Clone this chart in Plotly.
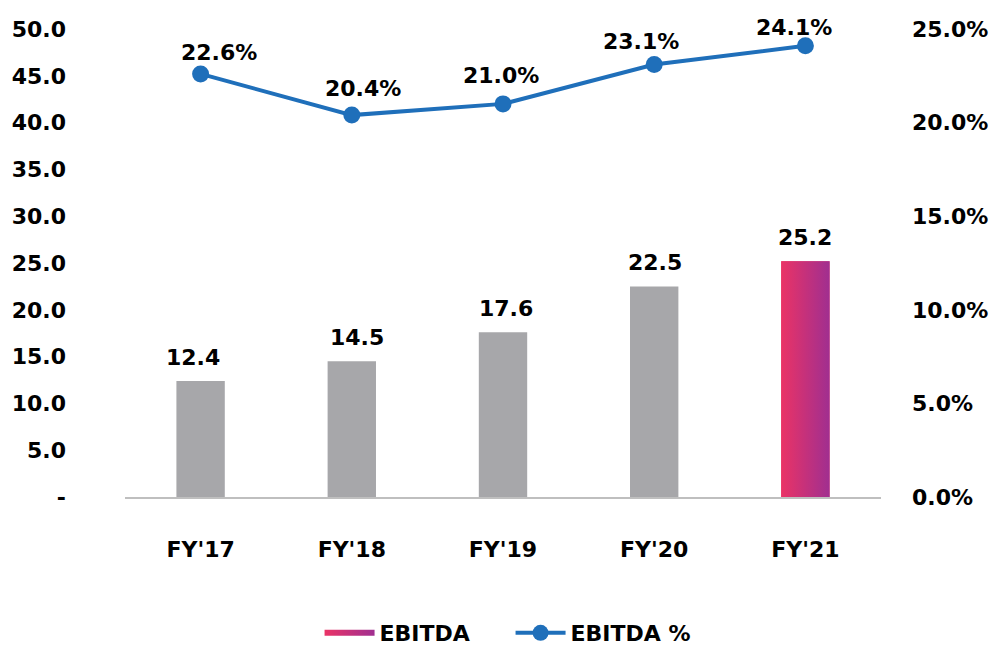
import plotly.graph_objects as go

categories = ["FY'17", "FY'18", "FY'19", "FY'20", "FY'21"]
ebitda = [12.4, 14.5, 17.6, 22.5, 25.2]
ebitda_pct = [22.6, 20.4, 21.0, 23.1, 24.1]
left_ticks = [0, 5, 10, 15, 20, 25, 30, 35, 40, 45, 50]
left_ticktext = ["-"] + [f"{v:.1f}" for v in left_ticks[1:]]
right_ticks = [0, 5, 10, 15, 20, 25]
right_ticktext = [f"{v:.1f}%" for v in right_ticks]

# label placement offsets (pixels) as in the source chart
pct_label_dx = [18, 11, -2, -13, -11]
pct_label_dy = [21, 27, 28, 23, 18]
bar_label_dx = [-8, 5, 3, 1, 0]

FONT = "DejaVu Sans"
FS = 22
BAR_W = 0.32
xs = list(range(len(categories)))

gray = "#a7a7aa"
blue = "#1f6fba"
grad_left = "#ea3366"
grad_right = "#a02f90"

tfont = dict(family=FONT, size=FS, color="black", weight="bold")

fig = go.Figure()

fig.add_trace(go.Bar(
    x=xs, y=ebitda, width=BAR_W,
    marker=dict(color=[gray] * (len(xs) - 1) + [grad_left], line=dict(width=0)),
    showlegend=False, name="EBITDA",
))

# gradient overlay on the latest bar, built from its value
i = len(xs) - 1
gx = [xs[i] - BAR_W / 2, xs[i] + BAR_W / 2, xs[i] + BAR_W / 2, xs[i] - BAR_W / 2, xs[i] - BAR_W / 2]
gy = [0, 0, ebitda[i], ebitda[i], 0]
fig.add_trace(go.Scatter(
    x=gx, y=gy, mode="none", fill="toself",
    fillgradient=dict(type="horizontal", colorscale=[[0, grad_left], [1, grad_right]]),
    name="EBITDA", showlegend=True, hoverinfo="skip",
))

fig.add_trace(go.Scatter(
    x=xs, y=ebitda_pct, yaxis="y2", mode="lines+markers",
    line=dict(color=blue, width=4), marker=dict(size=17, color=blue),
    name="EBITDA %", cliponaxis=False,
))

for x, v, dx in zip(xs, ebitda, bar_label_dx):
    fig.add_annotation(
        x=x, y=v, xref="x", yref="y", text=f"{v:.1f}", showarrow=False,
        yanchor="bottom", xshift=dx, yshift=9, font=tfont,
    )

for x, v, dx, dy in zip(xs, ebitda_pct, pct_label_dx, pct_label_dy):
    fig.add_annotation(
        x=x, y=v, xref="x", yref="y2", text=f"{v:.1f}%", showarrow=False,
        xshift=dx, yshift=dy, font=tfont,
    )

fig.update_layout(
    width=995, height=646,
    margin=dict(l=125, r=114, t=29, b=149, autoexpand=False),
    plot_bgcolor="white", paper_bgcolor="white",
    font=tfont,
    xaxis=dict(
        range=[-0.5, len(xs) - 0.5], tickvals=xs, ticktext=categories,
        showgrid=False, zeroline=False, showline=True, linecolor="#bfbfbf", linewidth=2,
        ticks="", ticklabelstandoff=32, tickfont=tfont,
    ),
    yaxis=dict(
        range=[0, 50], tickvals=left_ticks, ticktext=left_ticktext,
        showgrid=False, zeroline=False, showline=False, ticks="",
        ticklabelstandoff=58, tickfont=tfont,
    ),
    yaxis2=dict(
        range=[0, 25], overlaying="y", side="right",
        tickvals=right_ticks, ticktext=right_ticktext,
        showgrid=False, zeroline=False, showline=False, ticks="",
        ticklabelstandoff=30, tickfont=tfont,
    ),
    legend=dict(
        orientation="h", x=0.51, xanchor="center",
        yref="container", y=(646 - 633) / 646, yanchor="middle",
        font=tfont, itemwidth=50, entrywidth=126, traceorder="normal",
    ),
)

fig.write_html("out.html")
